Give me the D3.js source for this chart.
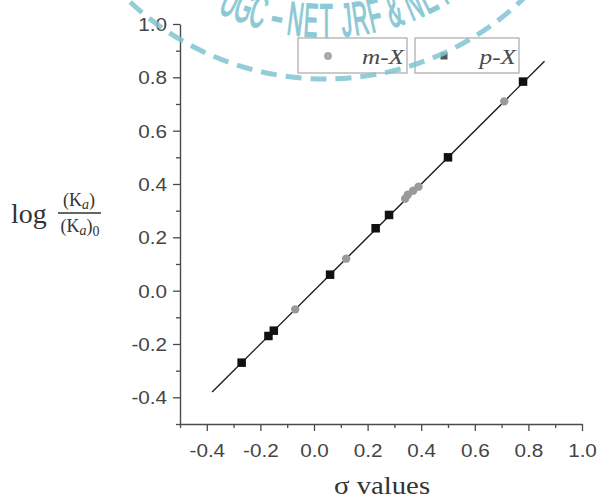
<!DOCTYPE html>
<html><head><meta charset="utf-8">
<script src="https://cdn.jsdelivr.net/npm/d3@7"></script>
<style>body{margin:0;background:#fff}svg{display:block}</style>
</head><body>
<script>
// ---- data ----
const seriesNames = ["m-X", "p-X"];
const mSigma = [-0.07, 0.12, 0.34, 0.35, 0.37, 0.39, 0.71];
const mLogK  = [-0.07, 0.12, 0.345, 0.36, 0.375, 0.39, 0.71];
const pSigma = [-0.27, -0.17, -0.15, 0.06, 0.23, 0.28, 0.50, 0.78];
const pLogK  = [-0.27, -0.17, -0.15, 0.06, 0.234, 0.284, 0.50, 0.784];
const fitSigma = [-0.38, 0.86];
const fitLogK  = [-0.38, 0.86];
const xTicks = [-0.4, -0.2, 0.0, 0.2, 0.4, 0.6, 0.8, 1.0];
const xTickLabels = ["-0.4", "-0.2", "0.0", "0.2", "0.4", "0.6", "0.8", "1.0"];
const yTicks = [-0.4, -0.2, 0.0, 0.2, 0.4, 0.6, 0.8, 1.0];
const yTickLabels = ["-0.4", "-0.2", "0.0", "0.2", "0.4", "0.6", "0.8", "1.0"];
const minorTicks = [-0.5, -0.3, -0.1, 0.1, 0.3, 0.5, 0.7, 0.9];
const xDomain = [-0.5, 1.0];
const yDomain = [-0.5, 1.0];

// ---- layout ----
const W = 598, H = 504;
const svg = d3.select("body").append("svg").attr("width", W).attr("height", H);
const x = d3.scaleLinear().domain(xDomain).range([180, 582]);
const y = d3.scaleLinear().domain(yDomain).range([424, 24]);
const AX = "#4a4a4a";
const SX = 1.15;
const sans = "'Liberation Sans', Arial, sans-serif";
const serif = "'Liberation Serif', 'Times New Roman', serif";

// x axis
const gx = svg.append("g").attr("transform", `translate(0,${y(yDomain[0])})`);
gx.call(d3.axisBottom(x).tickValues(xTicks).tickFormat((d, i) => xTickLabels[i]).tickSize(7).tickSizeOuter(0));
const gxm = svg.append("g").attr("transform", `translate(0,${y(yDomain[0])})`);
gxm.call(d3.axisBottom(x).tickValues(minorTicks).tickFormat("").tickSize(4).tickSizeOuter(0));
gxm.select(".domain").remove();
gx.selectAll("text").attr("y", 20).attr("dy", "0.71em")
  .attr("transform", `scale(${SX},1)`);

// y axis
const gy = svg.append("g").attr("transform", `translate(${x(xDomain[0])},0)`);
gy.call(d3.axisLeft(y).tickValues(yTicks).tickFormat((d, i) => yTickLabels[i]).tickSize(7).tickSizeOuter(0));
const gym = svg.append("g").attr("transform", `translate(${x(xDomain[0])},0)`);
gym.call(d3.axisLeft(y).tickValues(minorTicks).tickFormat("").tickSize(4).tickSizeOuter(0));
gym.select(".domain").remove();
gy.selectAll("text").attr("x", -13 / SX).attr("dy", "0.36em")
  .attr("transform", `scale(${SX},1)`);

[gx, gxm, gy, gym].forEach(g => {
  g.selectAll(".domain").attr("stroke", AX).attr("stroke-width", 1.4);
  g.selectAll(".tick line").attr("stroke", AX).attr("stroke-width", 1.3);
  g.selectAll("text").attr("fill", "#454545").style("font-family", sans).style("font-size", "18px");
});

// fit line
svg.append("line")
  .attr("x1", x(fitSigma[0])).attr("y1", y(fitLogK[0]))
  .attr("x2", x(fitSigma[1])).attr("y2", y(fitLogK[1]))
  .attr("stroke", "#1a1a1a").attr("stroke-width", 1.4);

// m-X points
svg.append("g").selectAll("circle").data(mSigma).join("circle")
  .attr("cx", d => x(d)).attr("cy", (d, i) => y(mLogK[i])).attr("r", 4.2)
  .attr("fill", "#9a9a9a");

// p-X points
const sq = 8.5;
svg.append("g").selectAll("rect").data(pSigma).join("rect")
  .attr("x", d => x(d) - sq / 2).attr("y", (d, i) => y(pLogK[i]) - sq / 2)
  .attr("width", sq).attr("height", sq).attr("fill", "#111");

// legend
const leg = svg.append("g");
const legBoxes = [{x: 298, w: 109}, {x: 415, w: 104}];
legBoxes.forEach((b, i) => {
  leg.append("rect").attr("x", b.x).attr("y", 38).attr("width", b.w).attr("height", 35)
    .attr("fill", "#fff").attr("stroke", "#b0b0b0").attr("stroke-width", 1.3);
  leg.append("text").text(seriesNames[i])
    .attr("text-anchor", "end")
    .attr("transform", `translate(${b.x + b.w - 3},64) scale(${SX},1)`)
    .style("font-family", serif).style("font-style", "italic").style("font-size", "22px")
    .attr("fill", "#4a4a4a");
});
leg.append("circle").attr("cx", 328).attr("cy", 56).attr("r", 4).attr("fill", "#aaa");
leg.append("rect").attr("x", 444 - 3.5).attr("y", 56 - 3.5).attr("width", 7).attr("height", 7).attr("fill", "#555");

// axis titles
svg.append("text").text("σ values")
  .attr("text-anchor", "middle")
  .attr("transform", `translate(382,494) scale(${SX},1)`)
  .style("font-family", serif).style("font-size", "25px").attr("fill", "#333");

const yl = svg.append("g").attr("fill", "#333").style("font-family", serif);
yl.append("text").text("log").attr("x", 11).attr("y", 223).style("font-size", "28px");
const num = yl.append("text").attr("x", 79).attr("y", 206).attr("text-anchor", "middle").style("font-size", "18px");
num.append("tspan").text("(K");
num.append("tspan").text("a").style("font-style", "italic").style("font-size", "14px").attr("dy", 3);
num.append("tspan").text(")").attr("dy", -3);
yl.append("line").attr("x1", 58).attr("x2", 101).attr("y1", 213).attr("y2", 213)
  .attr("stroke", "#333").attr("stroke-width", 1.3);
const den = yl.append("text").attr("x", 80).attr("y", 232).attr("text-anchor", "middle").style("font-size", "18px");
den.append("tspan").text("(K");
den.append("tspan").text("a").style("font-style", "italic").style("font-size", "14px").attr("dy", 3);
den.append("tspan").text(")").attr("dy", -3);
den.append("tspan").text("0").style("font-size", "14px").attr("dy", 4);

// watermark (decorative stamp overlay)
const wm = {cx: 325, cy: -206, R: 285, Rt: 243, col: "#7fc4d1"};
svg.append("circle").attr("cx", wm.cx).attr("cy", wm.cy).attr("r", wm.R)
  .attr("fill", "none").attr("stroke", wm.col).attr("stroke-width", 5)
  .attr("stroke-dasharray", "16 9").attr("stroke-dashoffset", 4).attr("opacity", 0.85);
const wmChars = [["U",16],["G",16],["C",16],[" ",7],["-",12],[" ",5],["N",17],["E",16],["T",17],[" ",6],
  ["J",14],["R",16],["F",15],[" ",4],["&",20],[" ",3],["N",17],["E",16],["T",16]];
let s = -112;
const wmg = svg.append("g").attr("fill", wm.col).attr("stroke", wm.col).attr("stroke-width", 1.6)
  .attr("opacity", 0.9).style("font-family", sans).style("font-size", "47px");
wmChars.forEach(([ch, w]) => {
  const sc = s + w / 2, phi = sc / wm.Rt;
  const px = wm.cx + wm.Rt * Math.sin(phi), py = wm.cy + wm.Rt * Math.cos(phi);
  if (ch !== " ") {
    wmg.append("text").text(ch).attr("text-anchor", "middle")
      .attr("transform", `translate(${px},${py}) rotate(${-phi * 180 / Math.PI}) scale(${ch === "-" ? 0.8 : 0.45},1)`);
  }
  s += w;
});
</script>
</body></html>
